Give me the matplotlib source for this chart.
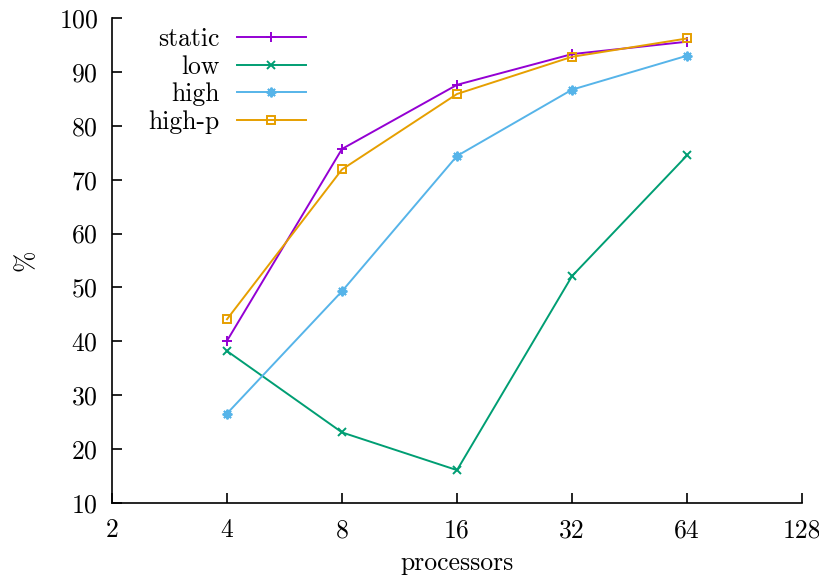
import matplotlib
matplotlib.use('Agg')
import matplotlib.pyplot as plt
from matplotlib.ticker import FixedLocator, FixedFormatter, NullLocator

plt.rcParams['font.family'] = ['cmr10', 'DejaVu Serif']
plt.rcParams['mathtext.fontset'] = 'cm'
plt.rcParams['axes.formatter.use_mathtext'] = True

# processor counts and efficiency (%) per scheduling variant
processors = [4, 8, 16, 32, 64]
static = [40.1, 75.7, 87.6, 93.3, 95.6]
low = [38.2, 23.1, 16.1, 52.1, 74.5]
high = [26.6, 49.3, 74.4, 86.7, 93.0]
high_p = [44.1, 71.9, 85.9, 92.8, 96.2]

x_ticks = [2, 4, 8, 16, 32, 64, 128]
y_ticks = [10, 20, 30, 40, 50, 60, 70, 80, 90, 100]

fs = 18.5

fig = plt.figure(figsize=(8.2, 5.79), dpi=100)
ax = fig.add_axes([112 / 820, 1 - 503 / 579, 690 / 820, 485 / 579])

ax.plot(processors, static, color='#9400d3', lw=1.4, marker='+', ms=7, mew=1.4, label='static')
ax.plot(processors, low, color='#009e73', lw=1.4, marker='x', ms=6, mew=1.4, label='low')
ax.plot(processors, high, color='#56b4e9', lw=1.4, marker=(8, 2, 0), ms=7, mew=1.4, label='high')
ax.plot(processors, high_p, color='#e69f00', lw=1.4, marker='s', ms=6, mew=1.4,
        mfc='none', label='high-p')

ax.set_xscale('log', base=2)
ax.set_xlim(2, 128)
ax.set_ylim(10, 100)
ax.xaxis.set_major_locator(FixedLocator(x_ticks))
ax.xaxis.set_major_formatter(FixedFormatter([str(t) for t in x_ticks]))
ax.xaxis.set_minor_locator(NullLocator())
ax.yaxis.set_major_locator(FixedLocator(y_ticks))

for side in ['top', 'right']:
    ax.spines[side].set_visible(False)
for side in ['left', 'bottom']:
    ax.spines[side].set_linewidth(1.2)
ax.tick_params(direction='in', length=7, width=1.2, labelsize=fs)
ax.tick_params(axis='x', pad=11)
ax.tick_params(axis='y', pad=10)

ax.set_xlabel('processors', fontsize=fs, labelpad=7)
ax.set_ylabel('%', fontsize=fs, labelpad=15)

ax.legend(loc='upper right', bbox_to_anchor=((306 - 112) / 690, (503 - 27) / 485),
          frameon=False, markerfirst=False, fontsize=fs, handlelength=2.7,
          handletextpad=0.66, labelspacing=0.16, borderaxespad=0, borderpad=0)

fig.savefig('out.png', dpi=100)
